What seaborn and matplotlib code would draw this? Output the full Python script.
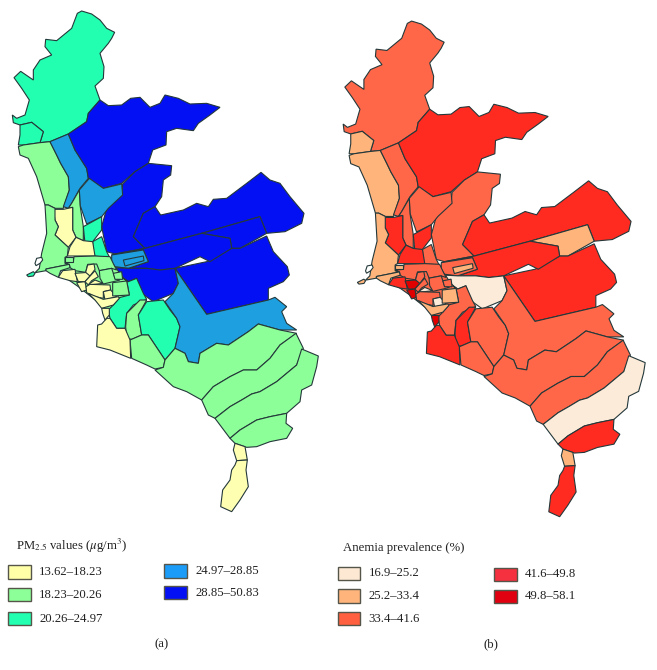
import matplotlib
matplotlib.use("Agg")
import matplotlib.pyplot as plt
from matplotlib.patches import Rectangle
import seaborn as sns

# District outlines (units: 1/3 pixel of the left map)
lima_base = [(200,775),(345,775),(390,810),(400,860),(380,930),(330,950),(305,915),(235,860),(185,825)]
ancon = [(232,40),(245,33),(275,42),(300,60),(320,85),(344,97),(335,115),(325,130),(300,160),(312,200),(310,235),(285,258),(300,300),(265,340),(260,365),(205,402),(150,425),(120,428),(130,395),(95,367),(60,375),(40,368),(37,345),(50,355),(75,345),(88,300),(65,265),(42,233),(62,214),(100,240),(100,210),(120,180),(155,165),(135,140),(137,118),(170,122),(215,85)]
santa_rosa = [(60,375),(95,367),(130,395),(120,428),(70,435),(55,435),(60,405)]
ventanilla = [(55,440),(70,435),(120,428),(150,425),(170,465),(182,490),(205,530),(208,570),(190,625),(165,625),(145,615),(135,615),(110,530),(85,475),(60,465)]
puente_piedra = [(150,425),(205,402),(225,450),(260,505),(265,535),(240,565),(215,610),(205,625),(190,620),(208,570),(205,530),(182,490),(170,465)]
carabayllo = [(205,402),(260,365),(265,340),(300,300),(325,317),(365,315),(392,295),(420,292),(450,322),(480,310),(495,285),(535,295),(570,312),(620,310),(660,322),(630,345),(595,370),(580,392),(530,385),(500,395),(498,435),(458,450),(445,490),(405,515),(365,550),(310,565),(265,535),(260,505),(225,450)]
san_juan = [(445,490),(515,497),(512,525),(490,540),(485,590),(465,620),(430,640),(400,710),(435,745),(345,762),(320,755),(305,680),(320,625),(365,585),(368,552),(405,515)]
comas = [(268,535),(310,565),(365,552),(368,585),(325,625),(305,650),(260,672),(240,615),(238,570)]
chosica = [(465,620),(482,645),(550,630),(590,610),(625,620),(640,598),(680,595),(740,550),(783,517),(810,540),(840,550),(870,590),(912,640),(905,670),(855,695),(800,700),(780,650),(605,700),(435,745),(400,710),(430,640)]
chaclacayo = [(605,700),(780,650),(800,700),(720,745),(695,745),(690,715)]
ate = [(720,745),(800,708),(820,755),(862,800),(868,825),(850,845),(805,865),(805,900),(620,943),(525,805),(620,785),(695,745)]
rimac_band = [(345,762),(435,745),(605,700),(690,715),(695,745),(630,785),(600,770),(525,805),(480,810),(440,805),(385,805),(445,785),(430,750),(335,765)]
cercado = [(335,765),(430,750),(445,785),(385,805),(345,800),(335,785)]
cercado_in = [(370,780),(430,768),(432,782),(375,798)]
agustino = [(372,835),(362,825),(348,803),(385,805),(440,805),(480,810),(525,805),(535,850),(520,880),(460,905),(425,880),(410,835),(385,845)]
column = [(205,625),(215,610),(238,570),(240,615),(250,680),(250,722),(228,712),(218,690),(218,622)]
olivos = [(160,628),(190,628),(218,622),(218,690),(228,712),(205,742),(165,705),(175,680),(165,660)]
independencia = [(250,680),(305,650),(305,690),(278,725),(255,730)]
smp_east = [(278,725),(305,710),(320,755),(338,790),(325,772),(280,768)]
smp = [(210,740),(228,712),(250,722),(278,725),(285,768),(202,768)]
callao = [(135,615),(145,615),(165,625),(165,660),(175,680),(165,705),(205,742),(202,768),(195,772),(195,790),(208,793),(138,807),(138,812),(105,818),(118,805),(125,760),(140,700)]
lima_mid = [(222,770),(285,768),(330,770),(342,795),(350,810),(335,805),(298,812),(290,792),(263,793),(257,817),(225,812),(210,803),(208,793),(195,788),(220,785)]
box_small = [(195,772),(220,772),(220,785),(195,785)]
strip = [(138,807),(208,793),(210,803),(182,812),(175,832),(150,820),(138,812)]
spit = [(80,825),(100,815),(105,820),(100,828),(85,830)]
dist_a = [(175,832),(188,812),(225,808),(232,845),(210,842)]
dist_b = [(225,820),(265,817),(270,828),(255,845),(235,845)]
dist_c = [(257,817),(263,795),(282,792),(285,808),(270,828)]
dist_d = [(230,848),(255,845),(260,870),(245,875)]
dist_e = [(255,845),(285,812),(295,830),(275,842),(265,855)]
dist_f = [(270,850),(285,840),(310,850),(265,855)]
dist_g = [(258,860),(270,853),(330,855),(332,870),(310,875),(310,895),(285,890),(260,878)]
dist_h = [(310,875),(332,870),(350,890),(315,900)]
dist_i = [(265,880),(310,898),(355,890),(358,895),(340,915),(305,925),(285,900)]
dist_j = [(305,925),(328,925),(328,945),(315,960),(308,940)]
dist_k = [(298,812),(335,805),(345,835),(360,840),(340,845),(310,852),(300,835)]
dist_l = [(340,820),(365,815),(368,838),(345,838)]
dist_m = [(338,848),(380,843),(388,885),(338,888)]
chorrillos = [(410,835),(430,880),(440,898),(400,915),(380,940),(375,985),(350,985),(330,955),(325,930),(340,915),(358,893),(388,885),(380,843),(370,835),(385,845)]
dist_o = [(390,930),(420,900),(440,900),(415,945),(425,1005),(395,1018),(380,1015),(377,980),(380,940)]
pachacamac = [(440,905),(490,900),(510,930),(530,955),(540,980),(525,1045),(495,1080),(445,1005),(425,1005),(415,945)]
lurin = [(425,1005),(445,1005),(495,1080),(490,1102),(465,1107),(440,1095),(395,1075),(390,1020)]
villa = [(320,955),(305,972),(293,975),(290,1040),(330,1050),(392,1075),(390,1020),(375,985),(350,985),(330,955)]
cieneguilla = [(525,805),(620,943),(805,900),(825,892),(860,920),(845,935),(860,970),(890,990),(840,990),(775,972),(745,995),(685,1035),(650,1030),(600,1060),(595,1090),(565,1085),(555,1060),(525,1045),(540,980),(530,955),(495,905),(520,880),(535,850)]
punta_hermosa = [(495,1080),(525,1045),(555,1060),(565,1085),(595,1090),(600,1060),(650,1030),(685,1035),(745,995),(775,972),(840,990),(890,1000),(840,1035),(810,1075),(770,1110),(730,1110),(690,1130),(640,1160),(605,1200),(560,1175),(520,1160),(465,1110),(490,1102)]
punta_negra = [(605,1200),(640,1160),(690,1130),(730,1110),(770,1110),(810,1075),(840,1035),(888,1000),(910,1045),(890,1095),(830,1145),(780,1175),(755,1182),(725,1200),(690,1220),(645,1255),(625,1245)]
san_bartolo = [(645,1255),(690,1220),(725,1200),(755,1182),(780,1175),(830,1145),(890,1095),(905,1047),(955,1068),(950,1100),(935,1155),(905,1170),(900,1205),(860,1240),(810,1250),(770,1260),(720,1290),(690,1315)]
santa_maria = [(690,1315),(720,1290),(770,1260),(810,1250),(860,1240),(858,1270),(878,1285),(860,1315),(810,1325),(770,1340),(740,1342),(705,1330)]
pucusana_n = [(705,1330),(735,1340),(742,1380),(710,1382),(700,1350)]
pucusana_s = [(710,1382),(742,1380),(738,1410),(745,1460),(720,1500),(695,1535),(662,1520),(668,1470),(690,1440),(695,1410),(705,1395)]
islet = [(105,790),(110,775),(125,772),(128,780),(120,790),(108,797)]

districts = [lima_base, ancon, santa_rosa, ventanilla, puente_piedra, carabayllo, san_juan, comas, chosica, chaclacayo, ate,
             rimac_band, cercado, cercado_in, agustino, column, olivos, independencia, smp_east, smp, callao,
             lima_mid, box_small, strip, spit, chorrillos, dist_o, pachacamac, lurin, villa, cieneguilla,
             punta_hermosa, punta_negra, san_bartolo, santa_maria, pucusana_n, pucusana_s,
             dist_a, dist_b, dist_c, dist_d, dist_e, dist_f, dist_g, dist_h, dist_i, dist_j, dist_k, dist_l, dist_m]

# class of each district (index into the legends)
pm_class = [1, 2, 2, 1, 3, 4, 4, 3, 4, 4, 4,
            4, 3, 3, 4, 1, 0, 2, 2, 0, 1,
            1, 1, 1, 2, 2, 1, 2, 1, 0, 3,
            1, 1, 1, 1, 0, 0,
            0, 0, 0, 0, 0, 0, 0, 0, 0, 0, 1, 1, 1]
anemia_class = [2, 2, 1, 1, 2, 3, 2, 2, 3, 1, 3,
                3, 2, 1, 0, 2, 3, 3, 2, 3, 1,
                2, 1, 1, 1, 2, 3, 2, 2, 3, 2,
                2, 2, 0, 3, 1, 3,
                3, 4, 2, 4, 2, 0, 2, 0, 1, 4, 2, 2, 1]

pm_labels = ["13.62–18.23", "18.23–20.26", "20.26–24.97", "24.97–28.85", "28.85–50.83"]
anemia_labels = ["16.9–25.2", "25.2–33.4", "33.4–41.6", "41.6–49.8", "49.8–58.1"]

pm_colors = sns.color_palette(["#ffffb2", "#8cff98", "#22ffb0", "#1e9fdf", "#0410f4"])
anemia_colors = sns.color_palette(["#fdebd9", "#ffb47c", "#ff6748", "#ff2a20", "#e00000"])
pm_swatches = sns.color_palette(["#ffffa8", "#8cff98", "#22ffb0", "#1a9cf8", "#0410f4"])
anemia_swatches = sns.color_palette(["#fde8d4", "#ffb47c", "#ff6040", "#f5303f", "#e00010"])

sns.set_style("white")
plt.rcParams["font.family"] = ["Liberation Serif", "DejaVu Serif"]
plt.rcParams["mathtext.fontset"] = "stix"

fig = plt.figure(figsize=(6.57, 6.70), dpi=100)
ax = fig.add_axes([0, 0, 1, 1])
ax.set_xlim(0, 657)
ax.set_ylim(670, 0)
ax.axis("off")


def draw_map(classes, colors, sx, ox, sy, oy):
    for shape, c in zip(districts, classes):
        xs = [ox + sx * p[0] / 3 for p in shape]
        ys = [oy + sy * p[1] / 3 for p in shape]
        ax.fill(xs, ys, facecolor=colors[c], edgecolor="#24383a", linewidth=0.8)
    xs = [ox + sx * p[0] / 3 for p in islet]
    ys = [oy + sy * p[1] / 3 for p in islet]
    ax.fill(xs, ys, facecolor="white", edgecolor="#24383a", linewidth=0.8)


def draw_legend(labels, colors, title, title_x, title_y, x1, x2, rows1, rows2, tick):
    ax.text(title_x, title_y, title, fontsize=9.2, color="#222222", va="center")
    for i, (lab, c) in enumerate(zip(labels, colors)):
        x = x1 if i < 3 else x2
        y = rows1[i] if i < 3 else rows2[i - 3]
        ax.add_patch(Rectangle((x, y - 6.7), 22.5, 13.4, facecolor=c, edgecolor="#55554a", linewidth=1))
        ax.text(x + 31, y, lab, fontsize=9.2, color="#222222", va="center")
    ax.text(tick[0], tick[1], tick[2], fontsize=9.2, color="#222222", ha="center", va="center")


draw_map(pm_class, pm_colors, 1, 0, 1, 0)
draw_map(anemia_class, anemia_colors, 0.987, 331, 0.99, 10.2)

draw_legend(pm_labels, pm_swatches, r"PM$_{2.5}$ values ($\mu$g/m$^3$)", 16, 546, 8.3, 164, [572, 594.5, 618.7], [571, 592.7], (162, 644, "(a)"))
draw_legend(anemia_labels, anemia_swatches, "Anemia prevalence (%)", 343, 548, 337.7, 494, [573.5, 596, 618.5], [574.3, 596.3], (490.7, 644, "(b)"))

sns.despine(ax=ax, left=True, bottom=True)
fig.savefig("out.png", dpi=100)
